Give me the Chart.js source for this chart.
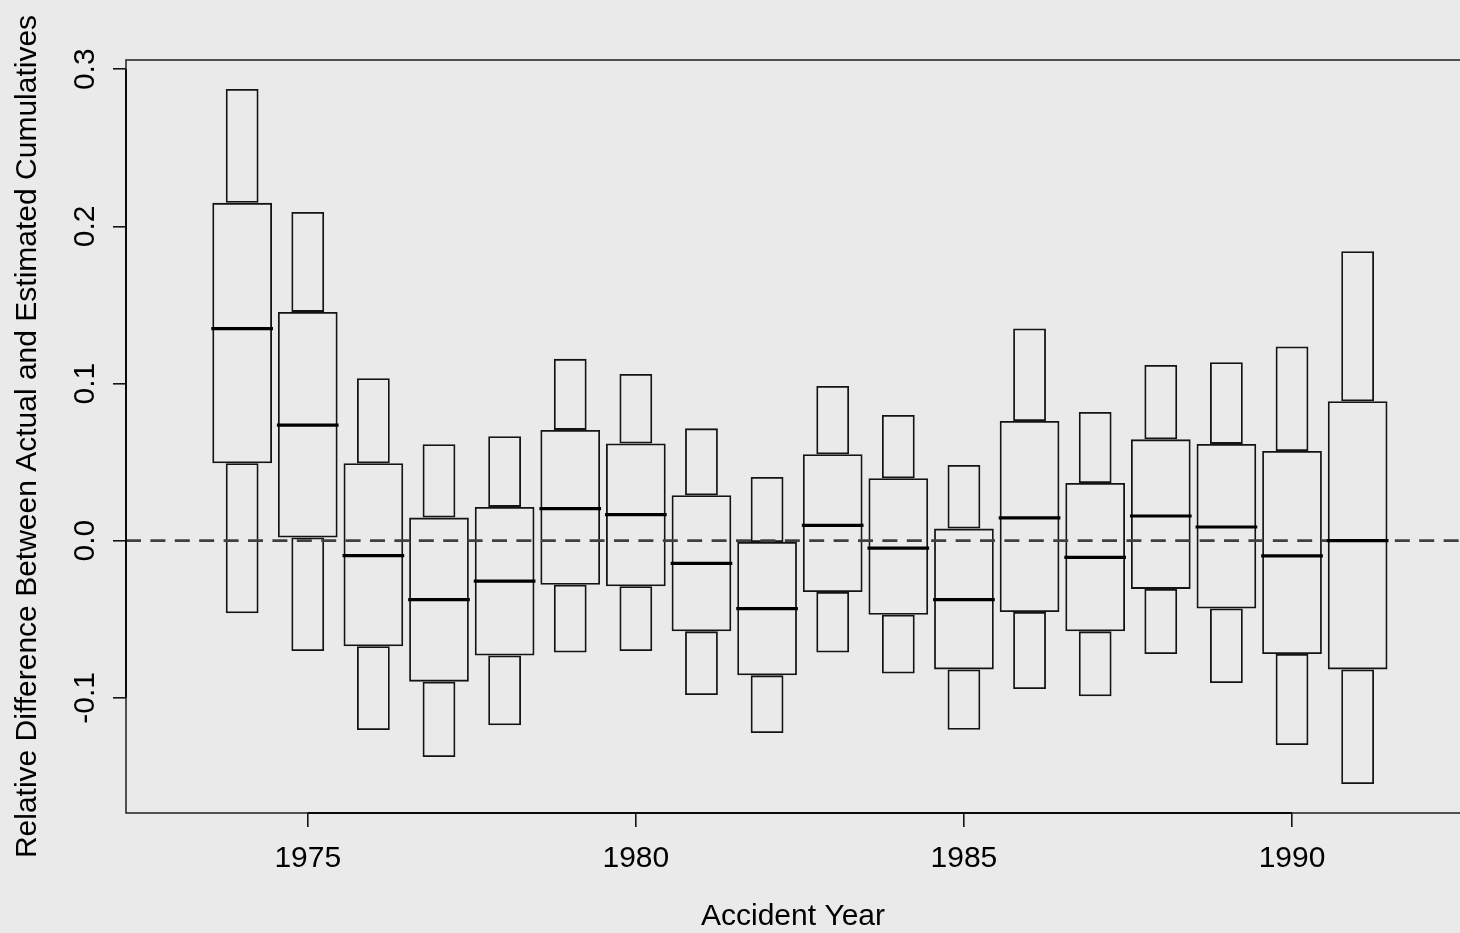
<!DOCTYPE html>
<html>
<head>
<meta charset="utf-8">
<title>Relative Difference by Accident Year</title>
<script src="https://cdn.jsdelivr.net/npm/chart.js@4/dist/chart.umd.min.js"></script>
<style>
  html, body { margin: 0; padding: 0; background: #eaeaea; }
  #wrap { width: 1460px; height: 933px; }
</style>
</head>
<body>
<div id="wrap"><canvas id="boxChart" width="1460" height="933"></canvas></div>
<script>
const years = [1974, 1975, 1976, 1977, 1978, 1979, 1980, 1981, 1982, 1983, 1984, 1985, 1986, 1987, 1988, 1989, 1990, 1991];
const whiskerHigh = [0.2875, 0.2092, 0.1034, 0.0614, 0.0665, 0.1157, 0.1061, 0.0715, 0.0405, 0.0985, 0.0800, 0.0482, 0.1350, 0.0819, 0.1118, 0.1136, 0.1236, 0.1842];
const upperQuartile = [0.2150, 0.1456, 0.0493, 0.0147, 0.0215, 0.0705, 0.0618, 0.0289, -0.0008, 0.0550, 0.0397, 0.0077, 0.0762, 0.0367, 0.0645, 0.0616, 0.0571, 0.0887];
const medians = [0.1350, 0.0735, -0.0095, -0.0375, -0.0258, 0.0204, 0.0166, -0.0144, -0.0432, 0.0098, -0.0048, -0.0375, 0.0145, -0.0106, 0.0157, 0.0087, -0.0097, 0.0];
const lowerQuartile = [0.0493, 0.0020, -0.0672, -0.0897, -0.0731, -0.0280, -0.0290, -0.0577, -0.0857, -0.0327, -0.0471, -0.0819, -0.0454, -0.0577, -0.0307, -0.0432, -0.0721, -0.0819];
const whiskerLow = [-0.0462, -0.0702, -0.1205, -0.1377, -0.1175, -0.0712, -0.0702, -0.0982, -0.1224, -0.0712, -0.0846, -0.1203, -0.0944, -0.0990, -0.0721, -0.0906, -0.1300, -0.1549];

const xTicks = [1975, 1980, 1985, 1990];
const yTicks = [-0.1, 0.0, 0.1, 0.2, 0.3];
const xRange = [1972.23, 1992.56];
const yRange = [-0.1733, 0.3059];

const ink = '#141414';
const fontFamily = '"Liberation Sans", Arial, Helvetica, sans-serif';
const MEDIAN_HALF = 0.47;

// S-Plus style median bars, drawn over the boxes
const medianLines = {
  id: 'medianLines',
  afterDatasetsDraw(chart) {
    const { ctx, scales: { x, y } } = chart;
    ctx.save();
    ctx.strokeStyle = '#000';
    ctx.lineWidth = 3.2;
    years.forEach((yr, i) => {
      const py = y.getPixelForValue(medians[i]);
      ctx.beginPath();
      ctx.moveTo(x.getPixelForValue(yr - MEDIAN_HALF), py);
      ctx.lineTo(x.getPixelForValue(yr + MEDIAN_HALF), py);
      ctx.stroke();
    });
    ctx.restore();
  }
};

// plot frame, with the heavier axis segment running between the outer ticks
const plotFrame = {
  id: 'plotFrame',
  afterDraw(chart) {
    const { ctx, chartArea: a, scales: { x, y } } = chart;
    ctx.save();
    ctx.strokeStyle = '#2a2a2a';
    ctx.lineWidth = 1.6;
    ctx.strokeRect(a.left, a.top, a.right - a.left + 2, a.bottom - a.top);
    ctx.strokeStyle = '#0a0a0a';
    ctx.lineWidth = 2;
    ctx.beginPath();
    ctx.moveTo(x.getPixelForValue(xTicks[0]), a.bottom);
    ctx.lineTo(x.getPixelForValue(xTicks[xTicks.length - 1]), a.bottom);
    ctx.moveTo(a.left, y.getPixelForValue(yTicks[0]));
    ctx.lineTo(a.left, y.getPixelForValue(yTicks[yTicks.length - 1]));
    ctx.stroke();
    ctx.restore();
  }
};

const boxStyle = {
  backgroundColor: 'transparent',
  borderColor: ink,
  borderWidth: 1.8,
  borderSkipped: false,
  grouped: false,
  categoryPercentage: 1,
  order: 1
};

new Chart(document.getElementById('boxChart'), {
  type: 'bar',
  data: {
    datasets: [
      Object.assign({ label: 'upper whisker', data: years.map((yr, i) => ({ x: yr, y: [upperQuartile[i], whiskerHigh[i]] })), barPercentage: 0.5 }, boxStyle),
      Object.assign({ label: 'lower whisker', data: years.map((yr, i) => ({ x: yr, y: [whiskerLow[i], lowerQuartile[i]] })), barPercentage: 0.5 }, boxStyle),
      Object.assign({ label: 'box', data: years.map((yr, i) => ({ x: yr, y: [lowerQuartile[i], upperQuartile[i]] })), barPercentage: 0.91 }, boxStyle),
      {
        type: 'line',
        label: 'zero',
        data: [{ x: xRange[0], y: 0 }, { x: xRange[1], y: 0 }],
        borderColor: '#404040',
        borderWidth: 2.8,
        borderDash: [15, 9.4],
        pointRadius: 0,
        order: 0
      }
    ]
  },
  options: {
    responsive: false,
    animation: false,
    events: [],
    layout: { padding: { top: 60, right: 0, bottom: 0, left: 0 } },
    plugins: { legend: { display: false }, tooltip: { enabled: false } },
    scales: {
      x: {
        type: 'linear',
        min: xRange[0],
        max: xRange[1],
        offset: false,
        afterBuildTicks: (s) => { s.ticks = xTicks.map((v) => ({ value: v })); },
        afterFit: (s) => { s.height = 120; },
        grid: { offset: false, drawOnChartArea: false, drawTicks: true, tickLength: 14, color: ink, lineWidth: 1.6 },
        border: { display: false },
        ticks: { color: '#000', padding: 14, font: { family: fontFamily, size: 30 }, maxRotation: 0, callback: (v) => String(v) },
        title: { display: true, text: 'Accident Year', color: '#000', padding: { top: 0, bottom: 0 }, font: { family: fontFamily, size: 30, lineHeight: 1.09 } }
      },
      y: {
        type: 'linear',
        min: yRange[0],
        max: yRange[1],
        afterBuildTicks: (s) => { s.ticks = yTicks.map((v) => ({ value: v })); },
        afterFit: (s) => { s.width = 126; },
        grid: { drawOnChartArea: false, drawTicks: true, tickLength: 13, color: ink, lineWidth: 1.6 },
        border: { display: false },
        ticks: { color: '#000', padding: 1, crossAlign: 'center', minRotation: 90, maxRotation: 90, font: { family: fontFamily, size: 30 }, callback: (v) => v.toFixed(1) },
        title: { display: true, text: 'Relative Difference Between Actual and Estimated Cumulatives', color: '#000', padding: { top: 11, bottom: 0 }, font: { family: fontFamily, size: 30, lineHeight: 1.09 } }
      }
    }
  },
  plugins: [medianLines, plotFrame]
});
</script>
</body>
</html>
